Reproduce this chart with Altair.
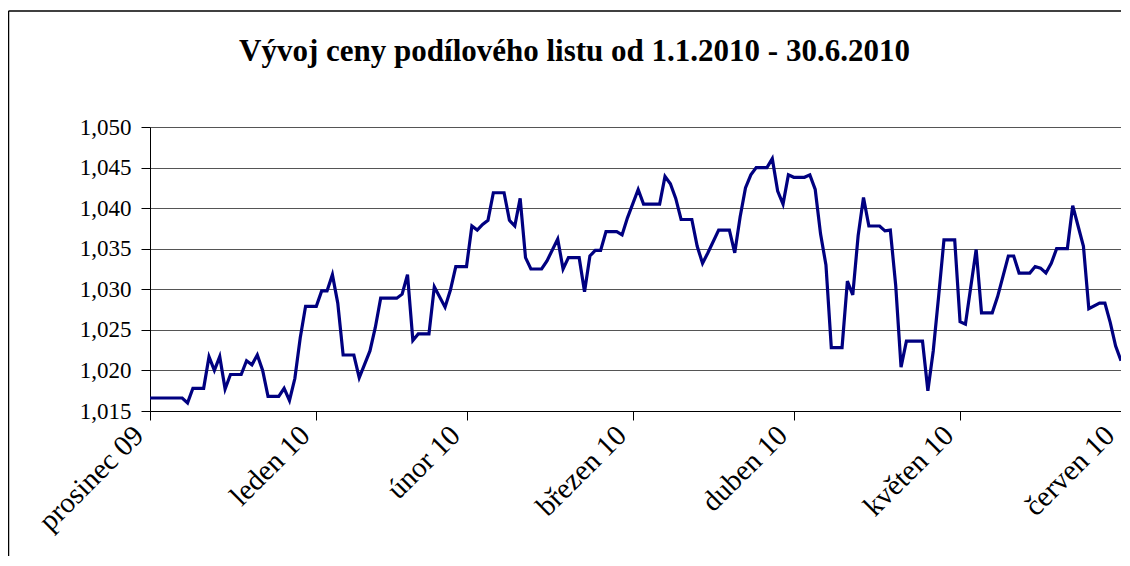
import json
import altair as alt
import pandas as pd

title_text = "Vývoj ceny podílového listu od 1.1.2010 - 30.6.2010"
start_date = "2009-12-31"

day_offsets = [0, 6, 7, 8, 10, 11, 12, 13, 14, 15, 17, 18, 19, 20, 21, 22, 24, 25, 26, 27,
               28, 29, 31, 32, 33, 34, 35, 36, 38, 39, 41, 42, 43, 46, 47, 48, 49, 50, 52, 53,
               55, 56, 57, 59, 60, 61, 62, 63, 64, 66, 67, 68, 69, 70, 71, 73, 74, 76, 77, 78,
               80, 81, 82, 83, 84, 85, 87, 88, 89, 91, 92, 95, 96, 97, 98, 99, 101, 102, 103, 104,
               106, 108, 109, 110, 111, 112, 113, 115, 116, 117, 118, 119, 120, 122, 123, 124, 125, 126, 127, 129,
               130, 131, 132, 133, 134, 136, 137, 138, 139, 140, 141, 144, 145, 146, 147, 148, 150, 151, 152, 154,
               155, 157, 158, 160, 161, 162, 164, 165, 166, 167, 168, 169, 171, 172, 173, 174, 175, 177, 178, 179,
               180, 181]

prices = [1.0166, 1.0166, 1.0160, 1.0178, 1.0178, 1.0217, 1.0200, 1.0217, 1.0177, 1.0195,
          1.0195, 1.0212, 1.0207, 1.0219, 1.0200, 1.0168, 1.0168, 1.0178, 1.0163, 1.0190,
          1.0240, 1.0279, 1.0279, 1.0298, 1.0298, 1.0318, 1.0283, 1.0219, 1.0219, 1.0191,
          1.0224, 1.0253, 1.0289, 1.0289, 1.0294, 1.0318, 1.0237, 1.0245, 1.0245, 1.0303,
          1.0278, 1.0299, 1.0328, 1.0328, 1.0378, 1.0373, 1.0380, 1.0385, 1.0419, 1.0419,
          1.0385, 1.0378, 1.0412, 1.0339, 1.0325, 1.0325, 1.0335, 1.0362, 1.0325, 1.0339,
          1.0339, 1.0297, 1.0341, 1.0348, 1.0348, 1.0371, 1.0371, 1.0367, 1.0388, 1.0423,
          1.0405, 1.0405, 1.0439, 1.0430, 1.0412, 1.0386, 1.0386, 1.0353, 1.0332, 1.0345,
          1.0373, 1.0373, 1.0345, 1.0389, 1.0425, 1.0441, 1.0450, 1.0450, 1.0461, 1.0421,
          1.0405, 1.0441, 1.0438, 1.0438, 1.0441, 1.0423, 1.0368, 1.0330, 1.0228, 1.0228,
          1.0310, 1.0293, 1.0366, 1.0413, 1.0378, 1.0378, 1.0372, 1.0373, 1.0305, 1.0204,
          1.0236, 1.0236, 1.0175, 1.0224, 1.0291, 1.0361, 1.0361, 1.0260, 1.0257, 1.0349,
          1.0271, 1.0271, 1.0291, 1.0341, 1.0341, 1.0320, 1.0320, 1.0328, 1.0326, 1.0320,
          1.0332, 1.0350, 1.0350, 1.0403, 1.0378, 1.0353, 1.0276, 1.0283, 1.0283, 1.0259,
          1.0230, 1.0212]

tick_dates = ["2009-12-31", "2010-01-31", "2010-02-28", "2010-03-31",
              "2010-04-30", "2010-05-31", "2010-06-30"]
tick_labels = ["prosinec 09", "leden 10", "únor 10", "březen 10",
               "duben 10", "květen 10", "červen 10"]
y_ticks = [1.015, 1.020, 1.025, 1.030, 1.035, 1.040, 1.045, 1.050]

dates = (pd.Timestamp(start_date) + pd.to_timedelta(day_offsets, unit="D")).strftime("%Y-%m-%d")
df = pd.DataFrame({"datum": list(dates), "cena": prices})


def dt(s):
    y, m, d = map(int, s.split("-"))
    return alt.DateTime(year=y, month=m, date=d, utc=True)


names = [""] * 12
for d, l in zip(tick_dates, tick_labels):
    names[int(d[5:7]) - 1] = l
label_expr = json.dumps(names, ensure_ascii=False) + "[utcmonth(datum.value)]"

FONT = "Liberation Serif"

line = alt.Chart(df).mark_line(color="#000080", strokeWidth=3.2).encode(
    x=alt.X(
        "datum:T",
        scale=alt.Scale(type="utc", domain=[dt(tick_dates[0]), dt(tick_dates[-1])]),
        axis=alt.Axis(
            values=[dt(d) for d in tick_dates],
            labelExpr=label_expr,
            labelAngle=315,
            labelAlign="right",
            labelBaseline="bottom",
            labelFont=FONT,
            labelFontSize=29,
            labelColor="black",
            labelPadding=21,
            labelOffset=-1,
            labelOverlap=False,
            labelFlush=False,
            tickSize=9,
            tickColor="black",
            domainColor="black",
            grid=False,
            title=None,
        ),
    ),
    y=alt.Y(
        "cena:Q",
        scale=alt.Scale(domain=[1.015, 1.050], zero=False, nice=False),
        axis=alt.Axis(
            values=y_ticks,
            labelExpr="replace(format(datum.value, '.3f'), '.', ',')",
            labelFont=FONT,
            labelFontSize=23,
            labelColor="black",
            labelPadding=10,
            labelFlush=False,
            tickSize=9,
            tickColor="black",
            domainColor="black",
            grid=True,
            gridColor="#555555",
            gridWidth=1,
            title=None,
        ),
    ),
)

one = pd.DataFrame({"k": [0]})
frame_top = alt.Chart(one).mark_rule(color="black", strokeWidth=1.5).encode(
    x=alt.value(-141.5), x2=alt.value(1300), y=alt.value(-116)
)
frame_left = alt.Chart(one).mark_rule(color="black", strokeWidth=1.5).encode(
    x=alt.value(-141.5), y=alt.value(-116), y2=alt.value(600)
)

chart = alt.layer(frame_top, frame_left, line).properties(
    width=971,
    height=284,
    autosize="none",
    padding={"left": 142, "top": 119, "right": 0, "bottom": 145},
    title=alt.Title(
        title_text,
        font=FONT,
        fontSize=31,
        fontWeight="bold",
        color="black",
        anchor="middle",
        baseline="alphabetic",
        dx=-61,
        dy=82,
        offset=0,
    ),
).configure_view(stroke="#808080", strokeWidth=1.5).configure(background="white")

chart.save("out.html", embed_options={"renderer": "svg", "actions": False})
